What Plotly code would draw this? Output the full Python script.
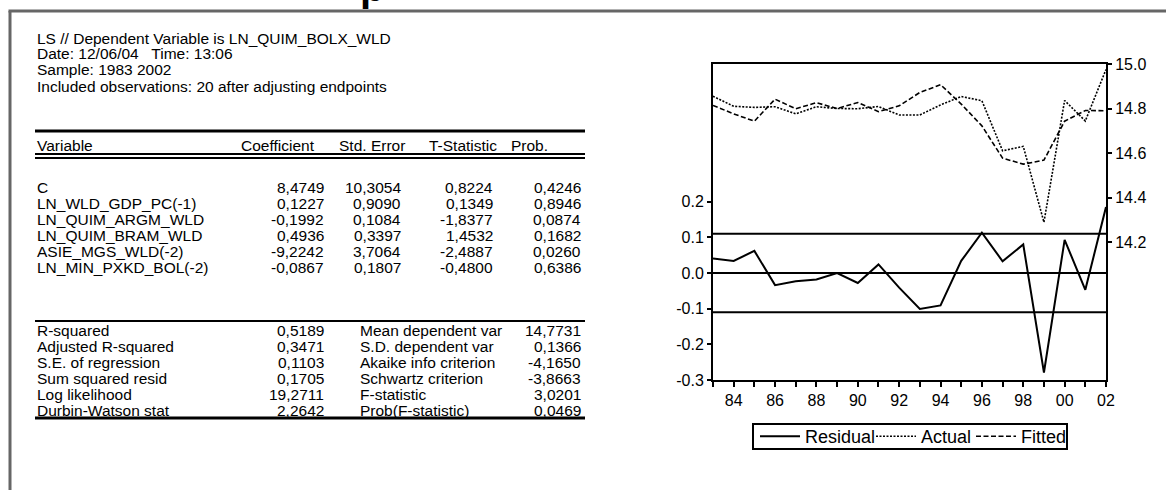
import plotly.graph_objects as go

W, H = 1166, 490

# ---------------- data ----------------
years = list(range(1983, 2003))
residual = [0.041, 0.034, 0.062, -0.034, -0.023, -0.018, 0.000, -0.028, 0.024, -0.041,
            -0.101, -0.091, 0.034, 0.113, 0.033, 0.080, -0.279, 0.093, -0.047, 0.185]
actual = [14.855, 14.810, 14.805, 14.808, 14.776, 14.808, 14.800, 14.799, 14.809, 14.771,
          14.771, 14.816, 14.854, 14.835, 14.610, 14.630, 14.289, 14.836, 14.744, 14.975]
fitted = [14.814, 14.776, 14.743, 14.842, 14.799, 14.826, 14.800, 14.827, 14.786, 14.812,
          14.872, 14.907, 14.820, 14.722, 14.577, 14.550, 14.568, 14.743, 14.791, 14.790]
se_regression = 0.1103

resid_ticks = [-0.3, -0.2, -0.1, 0.0, 0.1, 0.2]
resid_ticktext = ["-0.3", "-0.2", "-0.1", "0.0", "0.1", "0.2"]
level_ticks = [14.2, 14.4, 14.6, 14.8, 15.0]
level_ticktext = ["14.2", "14.4", "14.6", "14.8", "15.0"]
year_ticktext = [f"{y % 100:02d}" if y % 2 == 0 else "" for y in years]

header_lines = [
    "LS // Dependent Variable is LN_QUIM_BOLX_WLD",
    "Date: 12/06/04   Time: 13:06",
    "Sample: 1983 2002",
    "Included observations: 20 after adjusting endpoints",
]
col_headers = ["Variable", "Coefficient", "Std. Error", "T-Statistic", "Prob."]
variables = ["C", "LN_WLD_GDP_PC(-1)", "LN_QUIM_ARGM_WLD", "LN_QUIM_BRAM_WLD",
             "ASIE_MGS_WLD(-2)", "LN_MIN_PXKD_BOL(-2)"]
coef = ["8,4749", "0,1227", "-0,1992", "0,4936", "-9,2242", "-0,0867"]
stderr = ["10,3054", "0,9090", "0,1084", "0,3397", "3,7064", "0,1807"]
tstat = ["0,8224", "0,1349", "-1,8377", "1,4532", "-2,4887", "-0,4800"]
prob = ["0,4246", "0,8946", "0,0874", "0,1682", "0,0260", "0,6386"]

stats_left_labels = ["R-squared", "Adjusted R-squared", "S.E. of regression",
                     "Sum squared resid", "Log likelihood", "Durbin-Watson stat"]
stats_left_values = ["0,5189", "0,3471", "0,1103", "0,1705", "19,2711", "2,2642"]
stats_right_labels = ["Mean dependent var", "S.D. dependent var", "Akaike info criterion",
                      "Schwartz criterion", "F-statistic", "Prob(F-statistic)"]
stats_right_values = ["14,7731", "0,1366", "-4,1650", "-3,8663", "3,0201", "0,0469"]

FONT = "Liberation Sans, Arial, sans-serif"
TS = 15.5  # table text size


def px(x):
    return x / W


def py(y):
    return 1 - y / H


fig = go.Figure()
fig.add_trace(go.Scatter(x=years, y=residual, name="Residual", mode="lines",
                         line=dict(color="black", width=2), yaxis="y", legendwidth=61))
fig.add_trace(go.Scatter(x=years, y=actual, name="Actual", mode="lines",
                         line=dict(color="black", width=1.6, dash="2px,1.5px"), yaxis="y2",
                         legendwidth=45))
fig.add_trace(go.Scatter(x=years, y=fitted, name="Fitted", mode="lines",
                         line=dict(color="black", width=1.6, dash="5px,2.5px"), yaxis="y2",
                         legendwidth=40))

# residual reference lines (0 and +/- S.E. of regression)
for lvl in (se_regression, 0.0, -se_regression):
    fig.add_shape(type="line", xref="x", yref="y", x0=years[0], x1=years[-1] + 0.15,
                  y0=lvl, y1=lvl, line=dict(color="black", width=2))

annotations = []
shapes = []


def text(x, y, s, anchor="left", size=TS, **kw):
    annotations.append(dict(x=px(x), y=py(y), xref="paper", yref="paper", text=s,
                            showarrow=False, xanchor=anchor, yanchor="middle",
                            font=dict(family=FONT, size=size, color="black"), **kw))


def hline(x0, x1, y, w, color="black"):
    shapes.append(dict(type="line", xref="paper", yref="paper", x0=px(x0), x1=px(x1),
                       y0=py(y), y1=py(y), line=dict(color=color, width=w)))


# outer frame
shapes.append(dict(type="line", xref="paper", yref="paper", x0=px(10), x1=px(10),
                   y0=py(490), y1=py(11), line=dict(color="#666666", width=3)))
hline(8.5, 1166, 11, 3, "#666666")
# cut off title glyph
annotations.append(dict(x=px(358), y=py(-13), xref="paper", yref="paper", text="<b>p</b>",
                        showarrow=False, xanchor="left", yanchor="middle",
                        font=dict(family=FONT, size=40, color="black")))

# legend frame
shapes.append(dict(type="rect", xref="paper", yref="paper", x0=px(753), x1=px(1067),
                   y0=py(449), y1=py(424), line=dict(color="black", width=2),
                   fillcolor="rgba(0,0,0,0)"))

# header
for i, s in enumerate(header_lines):
    text(35, 38 + 16 * i, s)

hline(35, 585, 131, 3)
text(35, 145, col_headers[0])
text(239, 145, col_headers[1])
text(337, 145, col_headers[2])
text(427, 145, col_headers[3])
text(509, 145, col_headers[4])
hline(35, 585, 154, 2)
hline(35, 585, 158, 2)

for i in range(len(variables)):
    y = 187 + 16 * i
    text(35, y, variables[i])
    text(326, y, coef[i], "right")
    text(403, y, stderr[i], "right")
    text(495, y, tstat[i], "right")
    text(583, y, prob[i], "right")

hline(35, 585, 321, 2)
for i in range(len(stats_left_labels)):
    y = 330 + 16 * i
    text(35, y, stats_left_labels[i])
    text(326, y, stats_left_values[i], "right")
    text(358, y, stats_right_labels[i])
    text(583, y, stats_right_values[i], "right")
hline(35, 585, 418, 3)

fig.update_layout(
    width=W, height=H,
    margin=dict(l=0, r=0, t=0, b=0, autoexpand=False),
    paper_bgcolor="white", plot_bgcolor="white",
    font=dict(family=FONT, size=16, color="black"),
    showlegend=True,
    legend=dict(orientation="h", x=px(755), y=py(436.5), xanchor="left", yanchor="middle",
                borderwidth=0, bgcolor="rgba(0,0,0,0)",
                font=dict(family=FONT, size=18, color="black"), itemwidth=40),
    xaxis=dict(domain=[px(713), px(1106)], range=[years[0], years[-1]],
               tickvals=years, ticktext=year_ticktext, ticks="outside", ticklen=5,
               tickwidth=1.5, tickcolor="black", showline=True, linewidth=2,
               linecolor="black", mirror=True, showgrid=False, zeroline=False,
               tickfont=dict(size=16), automargin=False),
    yaxis=dict(domain=[py(380), py(64)], range=[-0.3, 0.586], tickvals=resid_ticks,
               ticktext=resid_ticktext, ticks="outside", ticklen=4, tickwidth=1.5,
               tickcolor="black", showline=True, linewidth=2, linecolor="black",
               showgrid=False, zeroline=False, tickfont=dict(size=16), automargin=False),
    yaxis2=dict(domain=[py(380), py(64)], range=[13.58, 15.0], overlaying="y", side="right",
                tickvals=level_ticks, ticktext=level_ticktext, ticks="outside", ticklen=4,
                tickwidth=1.5, tickcolor="black", showline=True, linewidth=2,
                linecolor="black", showgrid=False, zeroline=False, tickfont=dict(size=16),
                automargin=False),
    annotations=annotations,
    shapes=list(fig.layout.shapes) + shapes,
)

fig.write_html("out.html")
